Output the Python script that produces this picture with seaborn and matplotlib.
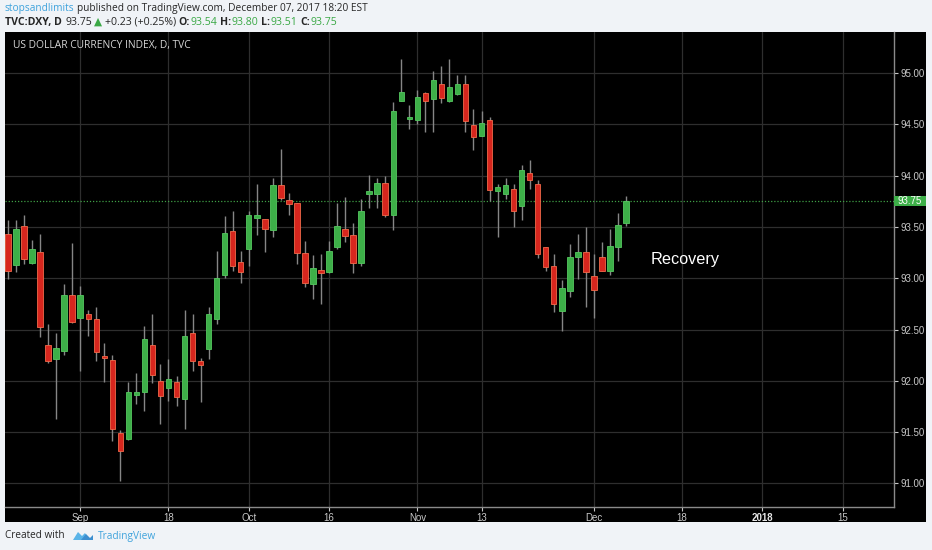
import numpy as np
import pandas as pd
import matplotlib
matplotlib.use("Agg")
import matplotlib.pyplot as plt
import seaborn as sns
from matplotlib.patches import Rectangle, Polygon
import matplotlib.transforms as mtransforms

# ---------------- data ----------------
opens = [93.43, 93.13, 93.51, 93.15, 93.26, 92.35, 92.21, 92.29, 92.84, 92.61,
         92.65, 92.60, 92.24, 92.20, 91.49, 91.43, 91.86, 91.89, 92.35, 92.00,
         91.93, 91.99, 91.82, 92.47, 92.19, 92.31, 92.60, 93.03, 93.46, 93.16,
         93.28, 93.59, 93.58, 93.47, 93.91, 93.76, 93.73, 93.25, 92.94, 93.08,
         93.06, 93.30, 93.48, 93.42, 93.15, 93.82, 93.82, 93.93, 93.62, 94.73,
         94.55, 94.54, 94.81, 94.75, 94.89, 94.73, 94.80, 94.89, 94.49, 94.39,
         94.54, 93.85, 93.82, 93.87, 93.70, 94.03, 93.92, 93.30, 93.12, 92.68,
         92.88, 93.21, 93.26, 93.02, 93.21, 93.07, 93.30, 93.54]
highs = [93.57, 93.57, 93.62, 93.37, 93.43, 92.55, 92.47, 92.94, 93.34, 92.92,
         92.69, 92.72, 92.37, 92.25, 91.52, 91.99, 92.08, 92.53, 92.65, 92.16,
         92.21, 92.05, 92.69, 92.65, 92.22, 92.72, 93.27, 93.61, 93.66, 93.27,
         93.66, 93.92, 93.58, 93.98, 94.26, 93.83, 93.73, 93.36, 93.23, 93.24,
         93.36, 93.73, 93.79, 93.54, 93.77, 94.01, 93.98, 94.00, 94.72, 95.14,
         94.69, 94.83, 94.82, 95.02, 95.07, 95.14, 94.98, 94.98, 94.65, 94.63,
         94.57, 93.92, 93.98, 93.92, 94.10, 94.15, 93.96, 93.30, 93.24, 92.98,
         93.33, 93.43, 93.50, 93.24, 93.35, 93.48, 93.64, 93.80]
lows = [92.99, 93.06, 93.14, 93.14, 92.43, 92.17, 91.63, 92.25, 92.56, 92.10,
        92.44, 92.19, 91.99, 91.41, 91.02, 91.42, 91.77, 91.71, 91.98, 91.58,
        91.80, 91.75, 91.53, 92.10, 91.79, 92.21, 92.55, 93.00, 93.07, 92.95,
        93.12, 93.42, 93.26, 93.40, 93.76, 93.62, 93.14, 92.91, 92.80, 92.75,
        93.05, 93.28, 93.35, 93.05, 93.12, 93.68, 93.68, 93.60, 93.47, 94.73,
        94.45, 94.50, 94.43, 94.43, 94.71, 94.72, 94.79, 94.43, 94.25, 94.39,
        93.75, 93.40, 93.77, 93.50, 93.57, 93.87, 93.20, 93.07, 92.67, 92.49,
        92.82, 92.99, 92.72, 92.61, 93.07, 93.03, 93.17, 93.51]
closes = [93.07, 93.48, 93.19, 93.28, 92.52, 92.19, 92.32, 92.84, 92.57, 92.84,
          92.60, 92.28, 92.22, 91.53, 91.32, 91.89, 91.89, 92.41, 92.06, 91.85,
          92.02, 91.84, 92.44, 92.19, 92.15, 92.65, 93.00, 93.44, 93.12, 93.06,
          93.62, 93.62, 93.48, 93.91, 93.78, 93.72, 93.25, 92.95, 93.10, 93.05,
          93.27, 93.51, 93.41, 93.15, 93.66, 93.85, 93.93, 93.62, 94.63, 94.82,
          94.57, 94.77, 94.73, 94.93, 94.76, 94.86, 94.89, 94.53, 94.38, 94.51,
          93.86, 93.89, 93.91, 93.66, 94.05, 93.96, 93.24, 93.11, 92.75, 92.90,
          93.21, 93.26, 93.06, 92.89, 93.07, 93.31, 93.52, 93.75]

time_tick_labels = ["Sep", "18", "Oct", "16", "Nov", "13", "Dec", "18", "2018", "15"]
time_tick_index = [9, 20, 30, 40, 51, 59, 73, 84, 94, 104]
price_ticks = [91.00, 91.50, 92.00, 92.50, 93.00, 93.50, 94.00, 94.50, 95.00]

symbol = "TVC:DXY, D"
author = "stopsandlimits"
published = "published on TradingView.com, December 07, 2017 18:20 EST"
chart_title = "US DOLLAR CURRENCY INDEX, D, TVC"
annotation = "Recovery"

df = pd.DataFrame({"open": opens, "high": highs, "low": lows, "close": closes})
df["idx"] = np.arange(len(df))
df["up"] = df["close"] >= df["open"]

# ---------------- style ----------------
sns.set_theme(style="dark")
plt.rcParams["font.family"] = ["Liberation Sans", "DejaVu Sans"]

W, H = 932, 550
BG = "#f0f3f7"
UP, UP_EDGE = "#3daf48", "#55c860"
DN, DN_EDGE = "#d7261e", "#f26a4a"
WICK = "#868686"
GRID = "#2e2e2e"
AXTXT = "#c8c8c8"

fig = plt.figure(figsize=(W / 100, H / 100), dpi=100, facecolor=BG)


def fx(px):
    return px / W


def fy(py):
    return 1 - py / H


# black chart panel (includes time-axis strip)
fig.patches.append(Rectangle((fx(5), fy(522)), fx(926) - fx(5), fy(32) - fy(522),
                             transform=fig.transFigure, facecolor="black",
                             edgecolor="none", zorder=-5))

ax = fig.add_axes([fx(5), fy(507), fx(894) - fx(5), fy(32) - fy(507)])
ax.set_zorder(1)
ax.set_facecolor("black")

# candles
ax.vlines(df["idx"], df["low"], df["high"], color=WICK, lw=1.0, zorder=2)
body_bottom = np.minimum(df["open"], df["close"])
body_h = np.maximum(np.abs(df["close"] - df["open"]), 0.012)
colors = np.where(df["up"], UP, DN)
edges = np.where(df["up"], UP_EDGE, DN_EDGE)
ax.bar(df["idx"], body_h, bottom=body_bottom, width=0.68, color=colors,
       edgecolor=edges, linewidth=0.6, zorder=3)

ax.set_xlim(-0.37, 110.39)
ax.set_ylim(90.77, 95.40)

# grid & ticks
ax.set_xticks(time_tick_index)
ax.set_xticklabels(time_tick_labels)
ax.set_yticks(price_ticks)
ax.set_yticklabels([f"{p:.2f}" for p in price_ticks])
ax.grid(True, color=GRID, lw=0.9)
ax.set_axisbelow(True)
ax.yaxis.tick_right()
ax.tick_params(axis="y", colors=AXTXT, labelsize=7.0, length=3, width=0.8, pad=2,
               direction="out", right=True, left=False)
ax.tick_params(axis="x", colors=AXTXT, labelsize=7.0, length=3, width=0.8, pad=1.5,
               direction="out", bottom=True)
for lab in ax.get_xticklabels():
    if lab.get_text() == "2018":
        lab.set_fontweight("bold")
        lab.set_color("#e6e6e6")
for side in ["top", "left"]:
    ax.spines[side].set_visible(False)
for side in ["bottom", "right"]:
    ax.spines[side].set_visible(True)
    ax.spines[side].set_color("#8a8a8a")
    ax.spines[side].set_linewidth(1.0)

# last-price line and label
last = closes[-1]
ax.axhline(last, color="#3f9f45", ls=(0, (1, 1.5)), lw=0.9, zorder=1)
blend = mtransforms.blended_transform_factory(ax.transAxes, ax.transData)
box_w = 32 / (894 - 5)
ax.add_patch(Rectangle((1.0, last - 0.049), box_w, 0.098, transform=blend,
                       facecolor="#3daf48", edgecolor="none", clip_on=False, zorder=5))
ax.text(1.0 + box_w / 2, last, f"{last:.2f}", transform=blend, ha="center",
        va="center", color="white", fontsize=7.0, clip_on=False, zorder=6)

# annotation
ax.text(80.1, 93.18, annotation, ha="left", va="center", color="white",
        fontsize=11.7, zorder=6)

# ---------------- text runs (header / footer) ----------------
renderer = fig.canvas.get_renderer()
HFONT = ["Open Sans", "DejaVu Sans"]


def draw_runs(x_px, y_px, runs, target_w, fs0=8.0, family=HFONT):
    def place(fs):
        arts = []
        x = x_px
        for txt, col, wt, gap in runs:
            a = fig.text(fx(x), fy(y_px), txt, color=col, fontsize=fs,
                         fontweight=wt, ha="left", va="center", family=family)
            bb = a.get_window_extent(renderer=renderer)
            x += bb.width + gap * fs * 100 / 72
            arts.append(a)
        return arts, x - x_px

    arts, w = place(fs0)
    for a in arts:
        a.remove()
    place(fs0 * target_w / w)


DARK = "#262626"
BLUE = "#3fa3dc"
GREEN = "#3aa845"

draw_runs(5, 8.5, [(author, BLUE, "normal", 0.26),
                   (published, DARK, "normal", 0.0)], 362.7)

prev = closes[-2]
chg = last - prev
pct = chg / prev * 100
runs2 = [(symbol, DARK, "bold", 0.30),
         (f"{last:.2f}", DARK, "normal", 0.22),
         ("\u25B2", GREEN, "normal", 0.22),
         (f"{chg:+.2f} ({pct:+.2f}%)", DARK, "normal", 0.30),
         ("O:", DARK, "bold", 0.0), (f"{opens[-1]:.2f}", GREEN, "normal", 0.30),
         ("H:", DARK, "bold", 0.0), (f"{highs[-1]:.2f}", GREEN, "normal", 0.30),
         ("L:", DARK, "bold", 0.0), (f"{lows[-1]:.2f}", GREEN, "normal", 0.30),
         ("C:", DARK, "bold", 0.0), (f"{closes[-1]:.2f}", GREEN, "normal", 0.0)]
draw_runs(5, 22.3, runs2, 331.7)

draw_runs(12.7, 45.7, [(chart_title, "#d6d6d6", "normal", 0.0)], 178)

draw_runs(5, 536, [("Created with", DARK, "normal", 0.0)], 60)
draw_runs(97.7, 536, [("TradingView", BLUE, "normal", 0.0)], 58)

# small logo
logo1 = [(73, 540), (78, 532), (82, 536), (85, 533), (88, 538), (84, 540)]
logo2 = [(81, 540), (86, 534), (90, 538), (93, 535), (93, 540)]
for pts, col in [(logo1, "#5ab4e8"), (logo2, "#3d8fd0")]:
    fig.patches.append(Polygon([(fx(a), fy(b)) for a, b in pts], closed=True,
                               transform=fig.transFigure, facecolor=col,
                               edgecolor="none", zorder=2))

fig.savefig("out.png", dpi=100, facecolor=BG)
